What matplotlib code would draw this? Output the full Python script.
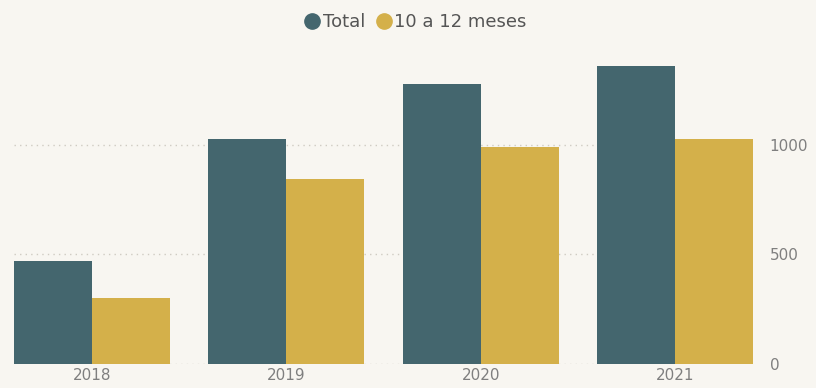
import matplotlib
matplotlib.use("Agg")
import matplotlib.pyplot as plt
from matplotlib.lines import Line2D
import numpy as np

plt.rcParams["font.family"] = ["DejaVu Sans"]

years = ["2018", "2019", "2020", "2021"]
total = [470, 1027, 1279, 1361]
meses_10_12 = [301, 845, 991, 1027]
y_ticks = [0, 500, 1000]

bg = "#f8f6f1"
teal = "#44666e"
gold = "#d4b04a"
txt = "#7f7f7f"

fig = plt.figure(figsize=(8.16, 3.88), dpi=100, facecolor=bg)
ax = fig.add_axes([14 / 816, 1 - 364 / 388, (753 - 14) / 816, (364 - 57) / 388])
ax.set_facecolor(bg)

x = np.arange(len(years))
w = 0.4
ax.bar(x - w / 2, total, width=w, color=teal, zorder=2)
ax.bar(x + w / 2, meses_10_12, width=w, color=gold, zorder=2)

ax.set_xlim(-0.4, len(years) - 0.6)
ax.set_ylim(0, 1400)
ax.set_xticks(x)
ax.set_xticklabels(years)
ax.set_yticks(y_ticks)
ax.yaxis.tick_right()
ax.tick_params(axis="both", length=0, colors=txt, labelsize=11)
ax.tick_params(axis="y", pad=12)
ax.tick_params(axis="x", pad=3)
for s in ax.spines.values():
    s.set_visible(False)
ax.grid(axis="y", color="#cfcbc2", linestyle=(0, (1, 3)), linewidth=1, zorder=0)

handles = [
    Line2D([], [], marker="o", linestyle="", markersize=11, color=teal),
    Line2D([], [], marker="o", linestyle="", markersize=11, color=gold),
]
fig.legend(handles, ["Total", "10 a 12 meses"], loc="center", bbox_to_anchor=(415 / 816, 1 - 22 / 388),
           ncol=2, frameon=False, fontsize=13, labelcolor="#555555", handletextpad=0.1,
           columnspacing=0.5, handlelength=1.0)

fig.savefig("out.png", dpi=100, facecolor=bg)
